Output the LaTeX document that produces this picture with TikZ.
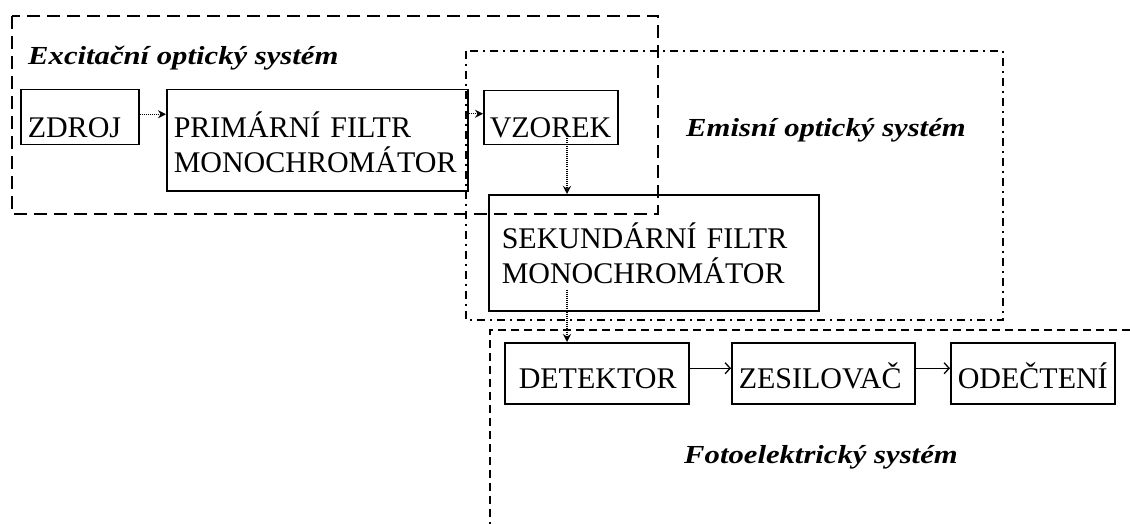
\documentclass[tikz,border=0pt]{standalone}
\usepackage{fontspec}
\setmainfont{Liberation Serif}
\usepackage{graphicx}
\usetikzlibrary{positioning,arrows.meta}

\begin{document}
\begin{tikzpicture}[x=1pt,y=-1pt,
        blok/.style={draw,line width=1.5pt,anchor=north west,inner sep=0pt,
                     inner xsep=7pt,align=left,font=\fontsize{30}{35}\selectfont},
        popis/.style={anchor=base west,inner sep=0pt,
                      font=\fontsize{26}{30}\selectfont\bfseries\itshape},
        tecky/.style={line width=1.2pt,dash pattern=on 1pt off 1pt,
                      -{Stealth[length=8pt,width=8pt]}},
        sipka/.style={line width=1.3pt,-{Straight Barb[length=5pt,width=11pt]}},
        ram/.style={line width=1.6pt}]
        \useasboundingbox (0,0) rectangle (1130,524);
        % ramecky systemu
        \draw[ram,dash pattern=on 13pt off 7pt] (12,16) rectangle (658,214);
        \draw[ram,dash pattern=on 8pt off 5pt on 2pt off 5pt] (466,51) rectangle (1003,320);
        \draw[ram,dash pattern=on 8pt off 5pt] (1130,330) -- (490,330) -- (490,524);
        \node[popis] (lexc) at (28,65) {\scalebox{1.18}[1]{Excitační optický systém}};
        \node[popis] (lemi) at (686,137) {\scalebox{1.18}[1]{Emisní optický systém}};
        \node[popis] (lfot) at (684,463) {\scalebox{1.18}[1]{Fotoelektrický systém}};
        % bloky
        \node[blok,text width=104pt,text height=48pt,text depth=7pt] (zdroj) at (20,89) {ZDROJ};
        \node[blok,text width=287pt,text height=48pt,text depth=53pt] (prim) at (166,89)
          {PRIMÁRNÍ FILTR\\MONOCHROMÁTOR};
        \node[blok,inner xsep=6pt,text width=122pt,text height=47pt,text depth=7pt] (vzorek) at (483,90) {VZOREK};
        \node[blok,inner xsep=13pt,text width=304pt,text height=54pt,text depth=62pt] (sek) at (488,194)
          {SEKUNDÁRNÍ FILTR\\MONOCHROMÁTOR};
        \foreach \n/\x/\s/\w/\lbl in {det/504/14/184/DETEKTOR,zes/731/7/183/ZESILOVAČ,ode/950/7/164/ODEČTENÍ}{
          \node[blok,inner xsep=\s pt,text width=\w pt-2*\s pt,text height=46pt,text depth=15pt] (\n) at (\x,342) {\lbl};
        }
        % sipky
        \coordinate (osa) at (567,0);
        \draw[tecky] ([yshift=3pt]zdroj.east) -- ([yshift=3pt]zdroj.east -| prim.west);
        \draw[tecky] ([yshift=4pt]vzorek.west -| prim.east) -- ([yshift=4pt]vzorek.west);
        \draw[tecky] ([yshift=7pt]vzorek.south -| osa) -- (sek.north -| osa);
        \draw[tecky] ([yshift=22pt]sek.south -| osa) -- (det.north -| osa);
        \draw[sipka] ([yshift=5pt]det.east) -- ([yshift=5pt]zes.west);
        \draw[sipka] ([yshift=5pt]zes.east) -- ([yshift=5pt]ode.west);
\end{tikzpicture}
\end{document}
